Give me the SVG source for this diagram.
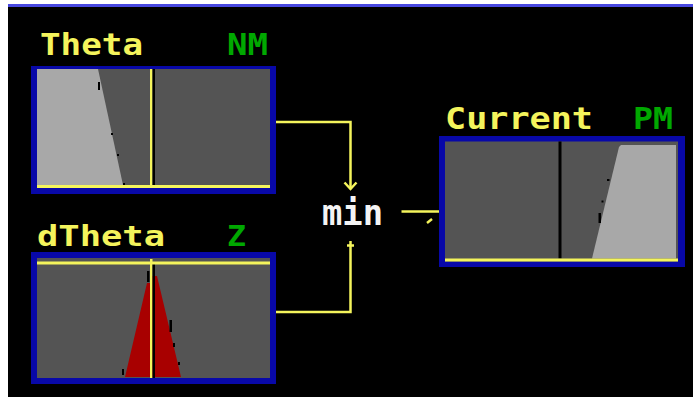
<svg xmlns="http://www.w3.org/2000/svg" width="693" height="397" viewBox="0 0 693 397">
<style>
.lbl{font-family:"DejaVu Sans Mono","Liberation Mono",monospace;font-weight:bold;}
.y{fill:#f4f45c;}
.g{fill:#00a800;}
.w{fill:#f4f4f4;}
.frame{fill:#0808a8;}
.dk{fill:#545454;}
.lt{fill:#a8a8a8;}
.ylw{fill:#f4f45c;}
.blk{fill:#000;}
.con{fill:none;stroke:#f4f45c;stroke-width:2.5;}
</style>
<rect x="0" y="0" width="693" height="397" fill="#ffffff"/>
<rect x="8" y="7" width="685" height="390" fill="#000000"/>
<rect x="8" y="4" width="685" height="3" fill="#4848e0"/>

<g id="theta">
<text class="lbl y" x="40" y="55" font-size="31" textLength="103" lengthAdjust="spacingAndGlyphs">Theta</text>
<text class="lbl g" x="227" y="55" font-size="31" textLength="41" lengthAdjust="spacingAndGlyphs">NM</text>
<rect class="frame" x="31" y="66" width="245" height="128"/>
<rect class="dk" x="37" y="69" width="233" height="119"/>
<polygon class="lt" points="37,69 98,69 123,185 37,185"/>
<rect class="blk" x="98" y="82" width="2" height="8"/>
<rect class="blk" x="111" y="133" width="2" height="2"/>
<rect class="blk" x="117" y="154" width="2" height="2"/>
<rect class="blk" x="123" y="183" width="2" height="2"/>
<rect class="ylw" x="150" y="69" width="2.5" height="119"/>
<rect class="blk" x="152.5" y="69" width="2.5" height="116"/>
<rect class="ylw" x="37" y="185" width="233" height="3"/>
</g>

<g id="dtheta">
<text class="lbl y" x="37" y="246" font-size="29" textLength="128" lengthAdjust="spacingAndGlyphs">dTheta</text>
<text class="lbl g" x="227" y="246" font-size="29" textLength="19" lengthAdjust="spacingAndGlyphs">Z</text>
<rect class="frame" x="31" y="252" width="245" height="132"/>
<rect class="dk" x="37" y="258" width="233" height="120"/>
<polygon points="125,377 147,283 150,283 150,276 157,276 181,377" fill="#a80000"/>
<rect class="blk" x="147" y="271" width="2.5" height="11"/>
<rect class="blk" x="169.5" y="320" width="2.5" height="12"/>
<rect class="blk" x="173" y="343" width="2" height="4"/>
<rect class="blk" x="178" y="362" width="2" height="3"/>
<rect class="blk" x="122" y="369" width="2" height="6"/>
<rect class="ylw" x="150" y="259" width="2.5" height="119"/>
<rect class="blk" x="152.5" y="264" width="2.5" height="114"/>
<rect class="ylw" x="37" y="261.5" width="233" height="3"/>
</g>

<g id="min">
<text class="lbl w" x="322" y="225" font-size="36" textLength="61" lengthAdjust="spacingAndGlyphs">min</text>
</g>

<g id="current">
<text class="lbl y" x="445" y="129" font-size="31" textLength="148" lengthAdjust="spacingAndGlyphs">Current</text>
<text class="lbl g" x="633" y="129" font-size="31" textLength="40" lengthAdjust="spacingAndGlyphs">PM</text>
<rect class="frame" x="439" y="136" width="246" height="131"/>
<rect class="dk" x="445" y="141.5" width="233" height="120"/>
<polygon class="lt" points="621,145 676,145 676,258.5 592,258.5 619,147"/>
<rect class="blk" x="607" y="179" width="2.5" height="2"/>
<rect class="blk" x="601.5" y="200.5" width="2" height="2"/>
<rect class="blk" x="598.5" y="213" width="2.5" height="10"/>
<rect class="blk" x="558.5" y="141.5" width="3" height="117"/>
<rect class="ylw" x="445" y="258.5" width="233" height="3"/>
</g>

<g id="connectors">
<polyline class="con" points="276,122 350.5,122 350.5,189"/>
<polyline class="con" points="344.5,182.5 350.5,189 356.5,182.5"/>
<polyline class="con" points="276,312 350.5,312 350.5,241"/>
<line class="con" x1="347" y1="245.5" x2="354" y2="245.5"/>
<line class="con" x1="401.5" y1="211.5" x2="439" y2="211.5"/>
<line class="con" x1="427" y1="223" x2="432" y2="219"/>
</g>
</svg>
